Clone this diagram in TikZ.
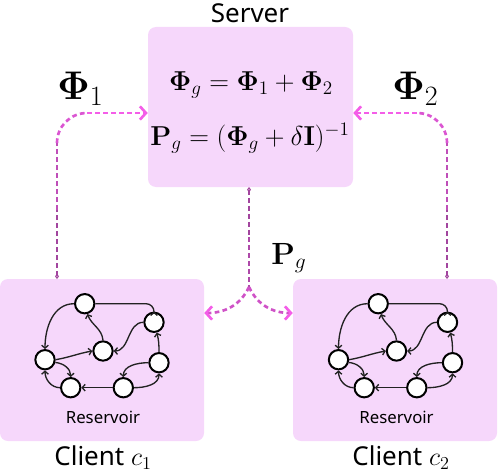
\RequirePackage{fix-cm}
\documentclass[tikz,border=0pt]{standalone}
\usepackage[no-math]{fontspec}
\setmainfont{Noto Sans}
\usepackage{amsmath}
\usetikzlibrary{arrows.meta,fit}
\definecolor{boxfill}{HTML}{F6D7FB}
\definecolor{cpurple}{HTML}{A2459E}
\definecolor{cpink}{HTML}{F45DE8}
\definecolor{edgecol}{HTML}{222222}
\newcommand{\resgraph}[2]{%
\begin{scope}[shift={(#1,0)}]
 \node[rnode] (#2A) at (84.7,168.3) {};
 \node[rnode] (#2B) at (154,149.7) {};
 \node[rnode] (#2C) at (103,121) {};
 \node[rnode] (#2D) at (45,112.3) {};
 \node[rnode] (#2E) at (159,109.3) {};
 \node[rnode] (#2F) at (70.7,84.3) {};
 \node[rnode] (#2G) at (123.3,84.3) {};
 \draw[redge, rounded corners=6pt] (#2A.east) -| (#2B.north);
 \draw[redge] (#2A.west) to[out=180,in=90] (#2D.north);
 \draw[redge] (#2C.north) to[out=95,in=-70] (#2A.-75);
 \draw[redge] (#2B.west) to[out=180,in=0] (#2C.east);
 \draw[redge] (#2D.east) to[out=10,in=190] (#2C.west);
 \draw[redge] (#2D.-15) to[out=-5,in=90] (#2F.north);
 \draw[redge] (#2F.west) to[out=180,in=-90] (#2D.south);
 \draw[redge] (#2G.west) -- (#2F.east);
 \draw[redge] (#2E.west) to[out=180,in=90] (#2G.north);
 \draw[redge] (#2G.east) to[out=0,in=-90] (#2E.south);
 \draw[redge] (#2E.north) to[out=90,in=-75] (#2B.-75);
 \node[font=\fontsize{12.6}{14}\selectfont] (#2lbl) at (103,55) {Reservoir};
\end{scope}}
\begin{document}
\begin{tikzpicture}[x=0.75pt,y=0.75pt,
  panel/.style={fill=boxfill, rounded corners=6pt, inner sep=0pt, draw=none},
  rnode/.style={circle, draw=black, fill=white, line width=1.5pt, minimum size=14.5pt, inner sep=0pt},
  redge/.style={draw=edgecol, line width=1pt, -{Straight Barb[length=2.2pt,width=5pt]}},
  conn/.style={line width=2pt, dash pattern=on 3.5pt off 2.5pt},
  tip/.style={-{Straight Barb[length=4.5pt,width=10pt,line width=2pt,color=cpink]}},
  start/.style={{Diamond[open,length=4pt,width=3pt,line width=0.8pt]}-},
  lbl/.style={font=\fontsize{19.5}{22}\selectfont, inner sep=0pt}
]
\useasboundingbox (0,0) rectangle (498,472);
% panels
\node[panel, fit={(148,285) (353,445)}] (server) {};
\node[panel, fit={(0,31) (204,193)}] (c1) {};
\node[panel, fit={(293,31) (497,193)}] (c2) {};
% labels
\node[lbl] (serverlbl) at (250,459) {Server};
\node[font=\fontsize{20.5}{25}\selectfont] (eq1) at (251,387) {$\mathbf{\Phi}_g = \mathbf{\Phi}_1 + \mathbf{\Phi}_2$};
\node[font=\fontsize{20.5}{25}\selectfont] (eq2) at (250,334) {$\mathbf{P}_g = (\mathbf{\Phi}_g + \delta\mathbf{I})^{-1}$};
\node[lbl] (c1lbl) at (103,14) {Client $c_1$};
\node[lbl] (c2lbl) at (401,14) {Client $c_2$};
\node[font=\fontsize{30}{34}\selectfont, anchor=base west, inner sep=0pt] (phi1lbl) at (57,373) {$\mathbf{\Phi}_1$};
\node[font=\fontsize{30}{34}\selectfont, anchor=base west, inner sep=0pt] (phi2lbl) at (392,373) {$\mathbf{\Phi}_2$};
\node[font=\fontsize{23}{27}\selectfont, anchor=base west, inner sep=0pt] (pglbl) at (271,208) {$\mathbf{P}_g$};
% reservoirs
\resgraph{0}{a}
\resgraph{293.5}{b}
% Phi1 connector
\coordinate (p1a) at (57,193);
\coordinate (p1b) at (57,262);
\coordinate (p1c) at (57,329);
\coordinate (p1d) at (87,359);
\coordinate (p1e) at (server.west |- p1d);
\draw[conn, cpurple, start] (p1a) -- (p1b);
\draw[conn, cpurple!65!cpink] (p1b) -- (p1c);
\draw[conn, cpurple!30!cpink] (p1c) to[out=90,in=180] (p1d);
\draw[conn, cpink, tip] (p1d) -- (p1e);
% Phi2 connector
\coordinate (p2a) at (447,193);
\coordinate (p2b) at (447,262);
\coordinate (p2c) at (447,329);
\coordinate (p2d) at (417,359);
\coordinate (p2e) at (server.east |- p2d);
\draw[conn, cpurple, start] (p2a) -- (p2b);
\draw[conn, cpurple!65!cpink] (p2b) -- (p2c);
\draw[conn, cpurple!30!cpink] (p2c) to[out=90,in=0] (p2d);
\draw[conn, cpink, tip] (p2d) -- (p2e);
% Pg connector
\coordinate (pga) at (249,285);
\coordinate (pgb) at (249,235);
\coordinate (pgm) at (249,185);
\coordinate (pgl) at (c1.east |- 0,159);
\coordinate (pgr) at (c2.west |- 0,159);
\draw[conn, cpurple, start] (pga) -- (pgb);
\draw[conn, cpurple!85!cpink] (pgb) -- (pgm);
\draw[conn, cpurple!45!cpink, tip] (pgm) to[out=-115,in=0] (pgl);
\draw[conn, cpurple!45!cpink, tip] (pgm) to[out=-65,in=180] (pgr);
\end{tikzpicture}
\end{document}
